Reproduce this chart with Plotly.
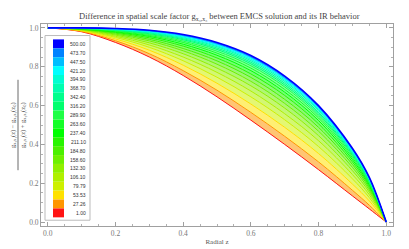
import plotly.graph_objects as go

# radial coordinate samples
z = [0.0, 0.1, 0.2, 0.3, 0.4, 0.5, 0.6, 0.7, 0.8, 0.9, 0.95, 1.0]

# parameter values (legend) and curve values
params = ["1.00", "27.26", "53.53", "79.79", "106.10", "132.30", "158.60", "184.80",
          "211.10", "237.40", "263.60", "289.90", "316.20", "342.40", "368.70",
          "394.90", "421.20", "447.50", "473.70", "500.00"]

c001 = [1.0, 0.980, 0.925, 0.850, 0.755, 0.645, 0.525, 0.400, 0.270, 0.135, 0.068, 0.0]
c027 = [1.0, 0.982, 0.934, 0.867, 0.780, 0.679, 0.565, 0.442, 0.310, 0.164, 0.087, 0.0]
c053 = [1.0, 0.985, 0.943, 0.885, 0.808, 0.715, 0.608, 0.488, 0.353, 0.196, 0.109, 0.0]
c080 = [1.0, 0.987, 0.951, 0.900, 0.831, 0.746, 0.645, 0.527, 0.389, 0.223, 0.126, 0.0]
c106 = [1.0, 0.989, 0.957, 0.912, 0.850, 0.771, 0.675, 0.558, 0.419, 0.245, 0.141, 0.0]
c132 = [1.0, 0.991, 0.963, 0.923, 0.867, 0.793, 0.702, 0.587, 0.445, 0.265, 0.154, 0.0]
c159 = [1.0, 0.992, 0.968, 0.933, 0.882, 0.813, 0.725, 0.611, 0.468, 0.282, 0.165, 0.0]
c185 = [1.0, 0.993, 0.973, 0.941, 0.894, 0.830, 0.745, 0.632, 0.488, 0.297, 0.175, 0.0]
c211 = [1.0, 0.994, 0.977, 0.949, 0.906, 0.845, 0.763, 0.652, 0.506, 0.310, 0.184, 0.0]
c237 = [1.0, 0.995, 0.980, 0.956, 0.916, 0.859, 0.780, 0.669, 0.523, 0.322, 0.192, 0.0]
c264 = [1.0, 0.996, 0.983, 0.961, 0.925, 0.870, 0.793, 0.683, 0.536, 0.332, 0.198, 0.0]
c290 = [1.0, 0.997, 0.986, 0.966, 0.932, 0.880, 0.805, 0.696, 0.547, 0.341, 0.204, 0.0]
c316 = [1.0, 0.997, 0.988, 0.970, 0.939, 0.889, 0.815, 0.706, 0.557, 0.348, 0.209, 0.0]
c342 = [1.0, 0.998, 0.989, 0.974, 0.944, 0.896, 0.823, 0.715, 0.565, 0.354, 0.213, 0.0]
c369 = [1.0, 0.998, 0.991, 0.977, 0.949, 0.903, 0.831, 0.724, 0.574, 0.360, 0.217, 0.0]
c395 = [1.0, 0.999, 0.993, 0.980, 0.953, 0.908, 0.838, 0.731, 0.580, 0.365, 0.220, 0.0]
c421 = [1.0, 0.999, 0.994, 0.982, 0.957, 0.913, 0.844, 0.737, 0.586, 0.369, 0.223, 0.0]
c448 = [1.0, 1.000, 0.995, 0.984, 0.960, 0.917, 0.849, 0.742, 0.591, 0.373, 0.226, 0.0]
c474 = [1.0, 1.000, 0.996, 0.986, 0.963, 0.921, 0.853, 0.747, 0.595, 0.377, 0.228, 0.0]
c500 = [1.0, 1.000, 0.997, 0.988, 0.966, 0.925, 0.858, 0.752, 0.600, 0.380, 0.230, 0.0]

curves = [c001, c027, c053, c080, c106, c132, c159, c185, c211, c237,
          c264, c290, c316, c342, c369, c395, c421, c448, c474, c500]

colors = [(255, 20, 20), (255, 150, 0), (255, 225, 0), (205, 240, 0), (175, 240, 0),
          (145, 240, 0), (110, 240, 0), (75, 240, 0), (40, 245, 0), (0, 255, 0),
          (20, 255, 40), (30, 255, 70), (0, 255, 110), (0, 255, 140), (0, 255, 175),
          (0, 255, 210), (0, 255, 255), (0, 190, 255), (0, 130, 255), (0, 0, 255)]

fig = go.Figure()
for i, (vals, col) in enumerate(zip(curves, colors)):
    r, g, b = col
    fig.add_trace(go.Scatter(
        x=z, y=vals, mode="lines",
        line=dict(color=f"rgb({r},{g},{b})", width=1.6 if i == len(curves) - 1 else 1,
                  shape="spline", smoothing=1.0),
        fill=None if i == 0 else "tonexty",
        fillcolor=f"rgba({r},{g},{b},0.55)",
        showlegend=False, hoverinfo="skip"))

W, H = 409, 249
L, R, T, B = 33, 24, 16, 23
pw, ph = W - L - R, H - T - B

def px(x):
    return (x - L) / pw

def py(y):
    return (H - B - y) / ph

shapes = []
annotations = []
# legend box
shapes.append(dict(type="rect", xref="paper", yref="paper",
                   x0=px(37), x1=px(82), y0=py(220), y1=py(28),
                   line=dict(color="#bbbbbb", width=1), fillcolor="white", layer="above"))
row_h = 9.25
top = 32
n = len(params)
for k in range(n):
    idx = n - 1 - k
    r, g, b = colors[idx]
    y0 = top + k * row_h
    shapes.append(dict(type="rect", xref="paper", yref="paper",
                       x0=px(45), x1=px(56), y0=py(y0 + row_h), y1=py(y0),
                       line=dict(width=0), fillcolor=f"rgb({r},{g},{b})", layer="above"))
    annotations.append(dict(xref="paper", yref="paper", x=px(80), y=py(y0 + row_h / 2),
                            text=params[idx], showarrow=False, xanchor="right", yanchor="middle",
                            font=dict(size=5, color="#333333", family="Liberation Sans")))

# y-axis label as fraction
num = "g<sub>x₃x₃</sub>(z) − g<sub>x₃x₃</sub>(z<sub>0</sub>)"
den = "g<sub>x₃x₃</sub>(z) + g<sub>x₃x₃</sub>(z<sub>0</sub>)"
annotations.append(dict(xref="paper", yref="paper", x=px(5), y=py(121), text=num,
                        textangle=-90, showarrow=False, xanchor="center", yanchor="middle",
                        font=dict(size=6.5, family="Liberation Serif", color="#444444")))
annotations.append(dict(xref="paper", yref="paper", x=px(15), y=py(121), text=den,
                        textangle=-90, showarrow=False, xanchor="center", yanchor="middle",
                        font=dict(size=6.5, family="Liberation Serif", color="#444444")))
shapes.append(dict(type="line", xref="paper", yref="paper", x0=px(10), x1=px(10),
                   y0=py(168), y1=py(74), line=dict(color="#444444", width=0.8)))

annotations.append(dict(xref="paper", yref="paper", x=px(211), y=py(8),
                        text="Difference in spatial scale factor g<sub>x₃,x₃</sub> between EMCS solution and its IR behavior",
                        showarrow=False, xanchor="center", yanchor="middle",
                        font=dict(size=8.5, family="Liberation Serif", color="#444444")))

axis_common = dict(showline=True, linecolor="#a0a0a0", linewidth=1, mirror="ticks",
                   ticks="inside", ticklen=4, tickcolor="#a0a0a0", showgrid=False, zeroline=False,
                   tickfont=dict(size=7.5, family="Liberation Serif", color="#777777"),
                   minor=dict(ticks="inside", ticklen=2, tickcolor="#b0b0b0", dtick=0.05))

fig.update_layout(
    width=W, height=H, margin=dict(l=L, r=R, t=T, b=B),
    paper_bgcolor="white", plot_bgcolor="white",
    xaxis=dict(range=[-0.02, 1.02], tickvals=[0, 0.2, 0.4, 0.6, 0.8, 1.0],
               ticktext=["0.0", "0.2", "0.4", "0.6", "0.8", "1.0"],
               title=dict(text="Radial z", font=dict(size=7, family="Liberation Serif", color="#555555"),
                          standoff=2), **axis_common),
    yaxis=dict(range=[-0.02, 1.02], tickvals=[0, 0.2, 0.4, 0.6, 0.8, 1.0],
               ticktext=["0.0", "0.2", "0.4", "0.6", "0.8", "1.0"], **axis_common),
    shapes=shapes, annotations=annotations,
)

fig.write_html("out.html")
